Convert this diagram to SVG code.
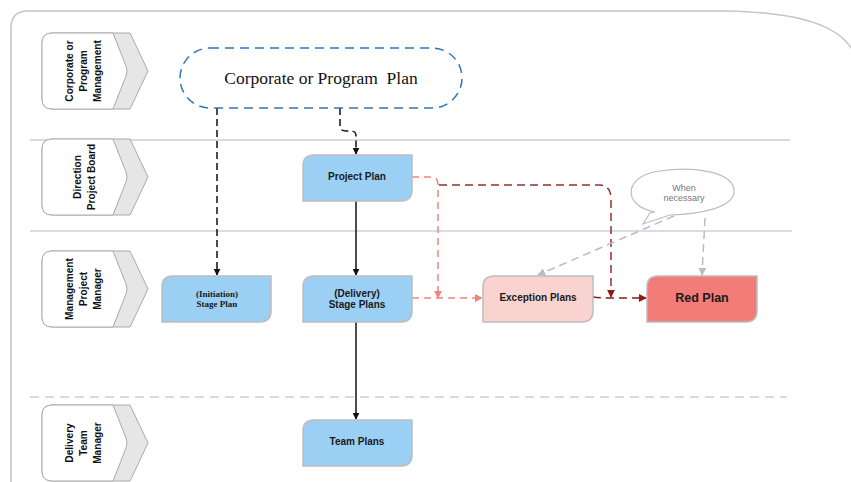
<svg xmlns="http://www.w3.org/2000/svg" width="851" height="482" viewBox="0 0 851 482">
<style>
.lane{font-family:"Liberation Sans",Arial,sans-serif;font-size:11.5px;font-weight:bold;fill:#111;text-anchor:middle}
.nt{font-family:"Liberation Sans",Arial,sans-serif;font-size:10px;font-weight:bold;fill:#1a1a1a;text-anchor:middle}
.blue{fill:#9BCFF3;stroke:#BDBDBD;stroke-width:1.5}
.hdr-o{fill:#E6E6E6;stroke:#AAAAAA;stroke-width:1}
.hdr-i{fill:#FFFFFF;stroke:#AAAAAA;stroke-width:1}
.cn{fill:none;stroke-width:1.5}
</style>
<defs>
<marker id="aBlack" viewBox="0 0 10 10" refX="9" refY="5" markerWidth="7" markerHeight="7" orient="auto" markerUnits="userSpaceOnUse"><path d="M0,0 L10,5 L0,10 Z" fill="#111"/></marker>
<marker id="aPink" viewBox="0 0 10 10" refX="9" refY="5" markerWidth="8" markerHeight="8" orient="auto" markerUnits="userSpaceOnUse"><path d="M0,0 L10,5 L0,10 Z" fill="#F2827C"/></marker>
<marker id="aDark" viewBox="0 0 10 10" refX="9" refY="5" markerWidth="8" markerHeight="8" orient="auto" markerUnits="userSpaceOnUse"><path d="M0,0 L10,5 L0,10 Z" fill="#8B1A1A"/></marker>
<marker id="aGray" viewBox="0 0 10 10" refX="9" refY="5" markerWidth="8" markerHeight="8" orient="auto" markerUnits="userSpaceOnUse"><path d="M0,0 L10,5 L0,10 Z" fill="#BBBBBB"/></marker>
<g id="hdr">
<path class="hdr-o" d="M10,0 L88,0 L106,38 L88,76 L10,76 Q0,76 0,66 L0,10 Q0,0 10,0 Z"/>
<path class="hdr-i" d="M10,0 L71,0 L84,33 Q86,38 84,43 L71,76 L10,76 Q0,76 0,66 L0,10 Q0,0 10,0 Z"/>
</g>
</defs>
<rect width="851" height="482" fill="#FFFFFF"/>
<path d="M11,482 L11,28 Q11,11 28,11 L727,11 C790,12 835,22 851,48" fill="none" stroke="#C4C4C4" stroke-width="1.5"/>
<g id="separators">
<line x1="30" y1="140" x2="790" y2="140" stroke="#CFCFCF" stroke-width="1.5"/>
<line x1="30" y1="231" x2="792" y2="231" stroke="#B4BCD8" stroke-width="1.2"/>
<line x1="30" y1="397" x2="787" y2="397" stroke="#CFCFCF" stroke-width="1.5" stroke-dasharray="9,6"/>
</g>
<g id="lane1">
<use href="#hdr" transform="translate(42,33)"/>
<g transform="translate(84,71) rotate(-90) scale(0.88,1)" class="lane"><text x="0" y="-11">Corporate or</text><text x="0" y="3">Program</text><text x="0" y="17">Management</text></g>
</g>
<g id="lane2">
<use href="#hdr" transform="translate(42,139)"/>
<g transform="translate(84,177) rotate(-90) scale(0.88,1)" class="lane"><text x="0" y="-3">Direction</text><text x="0" y="11">Project Board</text></g>
</g>
<g id="lane3">
<use href="#hdr" transform="translate(42,251)"/>
<g transform="translate(84,289) rotate(-90) scale(0.88,1)" class="lane"><text x="0" y="-11">Management</text><text x="0" y="3">Project</text><text x="0" y="17">Manager</text></g>
</g>
<g id="lane4">
<use href="#hdr" transform="translate(42,405)"/>
<g transform="translate(84,443) rotate(-90) scale(0.88,1)" class="lane"><text x="0" y="-11">Delivery</text><text x="0" y="3">Team</text><text x="0" y="17">Manager</text></g>
</g>
<g id="connectors">
<path class="cn" d="M217,108 L217,275" stroke="#111" stroke-dasharray="7,4" marker-end="url(#aBlack)"/>
<path class="cn" d="M340,108 L340,126 Q340,131 346,131 L351,131 Q356,131 356,136 L356,154" stroke="#111" stroke-dasharray="7,4" marker-end="url(#aBlack)"/>
<path class="cn" d="M356,201 L356,275" stroke="#111" marker-end="url(#aBlack)"/>
<path class="cn" d="M356,322 L356,419" stroke="#111" marker-end="url(#aBlack)"/>
<path class="cn" d="M412,177 L431,177 Q438,177 438,184 L438,298" stroke="#F2827C" stroke-dasharray="7,5" marker-end="url(#aPink)"/>
<path class="cn" d="M412,298 L482,298" stroke="#F2827C" stroke-dasharray="7,5" marker-end="url(#aPink)"/>
<path class="cn" d="M439,185 L600,185 Q611,186 611,198 L611,297" stroke="#9B2D2D" stroke-dasharray="8,5" marker-end="url(#aDark)"/>
<path class="cn" d="M593,297 Q600,298 612,298 L646,298" stroke="#8B1A1A" stroke-dasharray="8,5" marker-end="url(#aDark)"/>
<path class="cn" d="M674,216 L538,275" stroke="#BBBBBB" stroke-dasharray="8,5" marker-end="url(#aGray)"/>
<path class="cn" d="M705,218 L702,275" stroke="#BBBBBB" stroke-dasharray="8,5" marker-end="url(#aGray)"/>
</g>
<g id="corporatePlan">
<rect x="180" y="48" width="282" height="60" rx="30" ry="30" fill="#FFFFFF" stroke="#2E75B6" stroke-width="1.5" stroke-dasharray="9,6"/>
<text x="321" y="84" font-family="'Liberation Serif','Times New Roman',serif" font-size="17.5px" fill="#111" text-anchor="middle">Corporate or Program&#160; Plan</text>
</g>
<g id="projectPlan">
<path class="blue" d="M314,155 L412,155 L412,190 Q412,201 401,201 L303,201 L303,166 Q303,155 314,155 Z"/>
<text class="nt" x="357" y="180">Project Plan</text>
</g>
<g id="initiationStagePlan">
<path class="blue" d="M173,276 L271,276 L271,311 Q271,322 260,322 L162,322 L162,287 Q162,276 173,276 Z"/>
<text x="217" y="297" font-family="'Liberation Serif','Times New Roman',serif" font-size="9px" font-weight="bold" fill="#1a1a1a" text-anchor="middle">(Initiation)</text>
<text x="217" y="307" font-family="'Liberation Serif','Times New Roman',serif" font-size="9px" font-weight="bold" fill="#1a1a1a" text-anchor="middle">Stage Plan</text>
</g>
<g id="deliveryStagePlans">
<path class="blue" d="M314,276 L412,276 L412,311 Q412,322 401,322 L303,322 L303,287 Q303,276 314,276 Z"/>
<text class="nt" x="357" y="297">(Delivery)</text>
<text class="nt" x="357" y="308">Stage Plans</text>
</g>
<g id="teamPlans">
<path class="blue" d="M314,420 L412,420 L412,455 Q412,466 401,466 L303,466 L303,431 Q303,420 314,420 Z"/>
<text class="nt" x="357" y="445">Team Plans</text>
</g>
<g id="exceptionPlans">
<path d="M494,276 L593,276 L593,311 Q593,322 582,322 L483,322 L483,287 Q483,276 494,276 Z" fill="#F9D3D0" stroke="#BDBDBD" stroke-width="1.5"/>
<text class="nt" x="538" y="301">Exception Plans</text>
</g>
<g id="redPlan">
<path d="M658,276 L757,276 L757,311 Q757,322 746,322 L647,322 L647,287 Q647,276 658,276 Z" fill="#F27C77" stroke="#BDBDBD" stroke-width="1.5"/>
<text x="702" y="302" font-family="'Liberation Sans',Arial,sans-serif" font-size="12.5px" font-weight="bold" fill="#1a1a1a" text-anchor="middle">Red Plan</text>
</g>
<g id="whenNecessary">
<path d="M655,212 C620,205 625,175 660,171 C695,166 735,172 734,192 C733,208 700,214 670,215 L643,224 L650,213 Z" fill="#FFFFFF" stroke="#BDBDBD" stroke-width="1.2"/>
<text x="684" y="191" font-family="'Liberation Sans',Arial,sans-serif" font-size="9px" fill="#777" text-anchor="middle">When</text>
<text x="684" y="201" font-family="'Liberation Sans',Arial,sans-serif" font-size="9px" fill="#777" text-anchor="middle">necessary</text>
</g>
</svg>
